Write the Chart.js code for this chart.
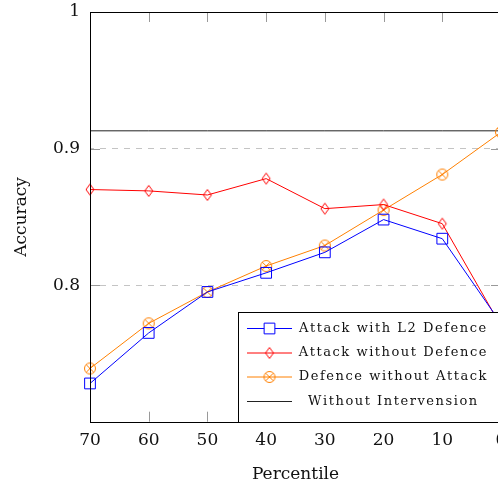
<!DOCTYPE html>
<html>
<head>
<meta charset="utf-8">
<script src="https://cdn.jsdelivr.net/npm/chart.js@4"></script>
<style>
  html, body { margin: 0; padding: 0; overflow: hidden; background: #fff; }
  #wrap { position: relative; width: 513px; height: 483px; }
</style>
</head>
<body>
<div id="wrap"><canvas id="accuracyChart"></canvas></div>
<script>
// Accuracy per pruning percentile
const percentiles = [70, 60, 50, 40, 30, 20, 10, 0];
const attackL2Defence = [0.728, 0.765, 0.795, 0.809, 0.824, 0.848, 0.834, 0.772];
const attackNoDefence = [0.870, 0.869, 0.866, 0.878, 0.856, 0.859, 0.845, 0.770];
const defenceNoAttack = [0.739, 0.772, 0.795, 0.814, 0.829, 0.855, 0.881, 0.912];
const noIntervention = 0.913;
const yTicks = [0.7, 0.8, 0.9, 1];

const seriesLabels = ['Attack with L2 Defence', 'Attack without Defence', 'Defence without Attack', 'Without Intervension'];

const BLUE = 'rgb(0,0,255)';
const RED = 'rgb(255,0,0)';
const ORANGE = 'rgb(255,128,0)';
const BLACK = '#222';

// small marker images for the diamond and the crossed circle
function diamondMarker(color) {
    const c = document.createElement('canvas');
    c.width = 12; c.height = 14;
    const g = c.getContext('2d');
    g.strokeStyle = color;
    g.lineWidth = 1;
    g.beginPath();
    g.moveTo(6, 1.5); g.lineTo(10, 7); g.lineTo(6, 12.5); g.lineTo(2, 7); g.closePath();
    g.stroke();
    return c;
}
function otimesMarker(color) {
    const c = document.createElement('canvas');
    c.width = 14; c.height = 14;
    const g = c.getContext('2d');
    g.strokeStyle = color;
    g.lineWidth = 1;
    const r = 5.5, d = r * Math.SQRT1_2;
    g.beginPath(); g.arc(7, 7, r, 0, Math.PI * 2); g.stroke();
    g.beginPath();
    g.moveTo(7 - d, 7 - d); g.lineTo(7 + d, 7 + d);
    g.moveTo(7 + d, 7 - d); g.lineTo(7 - d, 7 + d);
    g.stroke();
    return c;
}

const pts = vals => percentiles.map((p, i) => ({x: p, y: vals[i]}));

const datasets = [
    {
        label: seriesLabels[0], data: pts(attackL2Defence),
        borderColor: BLUE, backgroundColor: 'transparent',
        pointStyle: 'rect', pointRadius: 7.6, pointBorderColor: BLUE, pointBorderWidth: 1
    },
    {
        label: seriesLabels[1], data: pts(attackNoDefence),
        borderColor: RED, backgroundColor: 'transparent',
        pointStyle: diamondMarker(RED), pointRadius: 6
    },
    {
        label: seriesLabels[2], data: pts(defenceNoAttack),
        borderColor: ORANGE, backgroundColor: 'transparent',
        pointStyle: otimesMarker(ORANGE), pointRadius: 6
    },
    {
        label: seriesLabels[3], data: percentiles.map(p => ({x: p, y: noIntervention})),
        borderColor: BLACK, backgroundColor: 'transparent', pointRadius: 0
    }
];
datasets.forEach(d => { d.borderWidth = 1; d.clip = false; d.tension = 0; d.pointHoverRadius = d.pointRadius; });

const serif = 'DejaVu Serif';

// frame, inward tick marks and the boxed legend
const framePlugin = {
    id: 'frame',
    afterDatasetsDraw(chart) {
        const {ctx, chartArea: a, scales: {x, y}} = chart;
        ctx.save();
        ctx.strokeStyle = '#999';
        ctx.lineWidth = 1;
        const tl = 10;
        ctx.beginPath();
        percentiles.forEach(p => {
            const px = Math.round(x.getPixelForValue(p)) + 0.5;
            ctx.moveTo(px, a.top); ctx.lineTo(px, a.top + tl);
            ctx.moveTo(px, a.bottom); ctx.lineTo(px, a.bottom - tl);
        });
        yTicks.forEach(v => {
            const py = Math.round(y.getPixelForValue(v)) + 0.5;
            ctx.moveTo(a.left, py); ctx.lineTo(a.left + tl, py);
            ctx.moveTo(a.right, py); ctx.lineTo(a.right - tl, py);
        });
        ctx.stroke();
        ctx.strokeStyle = '#000';
        ctx.strokeRect(Math.round(a.left) + 0.5, Math.round(a.top) + 0.5,
            Math.round(a.right - a.left), Math.round(a.bottom - a.top));
        ctx.restore();
    },
    afterDraw(chart) {
        const {ctx, chartArea: a} = chart;
        const bx = 238.5, by = 312.5, bh = Math.round(a.bottom) - 312;
        ctx.save();
        ctx.fillStyle = '#fff';
        ctx.fillRect(bx, by, chart.width - bx + 5, bh);
        ctx.strokeStyle = '#000';
        ctx.lineWidth = 1;
        ctx.strokeRect(bx, by, chart.width - bx + 5, bh);

        const rows = [328.5, 353, 377, 401.5];
        const lineX0 = 247, lineX1 = 292, textCx = 392.5;
        ctx.font = '13px "' + serif + '"';
        ctx.textBaseline = 'middle';
        const spacing = Math.max(0, (187 - ctx.measureText(seriesLabels[0]).width) / (seriesLabels[0].length - 1));

        chart.data.datasets.forEach((ds, i) => {
            const yy = rows[i];
            ctx.strokeStyle = ds.borderColor;
            ctx.lineWidth = 1;
            ctx.beginPath();
            ctx.moveTo(lineX0, yy); ctx.lineTo(lineX1, yy);
            ctx.stroke();
            const mx = (lineX0 + lineX1) / 2;
            if (ds.pointRadius > 0) {
                Chart.helpers.drawPoint(ctx, {
                    pointStyle: ds.pointStyle, radius: ds.pointRadius, rotation: 0,
                    borderWidth: 1
                }, mx, yy);
            }
            // letter-spaced label
            ctx.fillStyle = '#111';
            const chars = [...ds.label];
            const w = ctx.measureText(ds.label).width + spacing * (chars.length - 1);
            let cx = textCx - w / 2;
            chars.forEach(ch => {
                ctx.fillText(ch, cx, yy);
                cx += ctx.measureText(ch).width + spacing;
            });
        });
        ctx.restore();
    }
};

// let the layout padding alone decide where the plot area sits
const noScalePadding = s => { s.paddingTop = 0; s.paddingBottom = 0; s.paddingLeft = 0; s.paddingRight = 0; };

new Chart(document.getElementById('accuracyChart'), {
    type: 'line',
    data: {datasets},
    options: {
        responsive: true,
        maintainAspectRatio: false,
        animation: false,
        events: [],
        layout: {padding: {top: 12, right: 12, left: 0, bottom: 0}},
        plugins: {legend: {display: false}, tooltip: {enabled: false}},
        scales: {
            x: {
                type: 'linear', reverse: true, min: 0, max: 70,
                afterBuildTicks: s => { s.ticks = percentiles.map(v => ({value: v})); },
                afterFit: s => { s.height = 61.3; noScalePadding(s); },
                ticks: {color: '#111', font: {family: serif, size: 17}, padding: 9, maxRotation: 0},
                grid: {display: false, drawTicks: false},
                border: {display: false},
                title: {display: true, text: 'Percentile', color: '#111',
                    font: {family: serif, size: 17}, padding: {top: 0, bottom: -2}}
            },
            y: {
                min: 0.7, max: 1,
                afterBuildTicks: s => { s.ticks = yTicks.map(v => ({value: v})); },
                afterFit: s => { s.width = 90; noScalePadding(s); },
                ticks: {
                    color: '#111', font: {family: serif, size: 17}, padding: 10,
                    callback: v => (v < 0.75 ? '' : String(Math.round(v * 10) / 10))
                },
                grid: {
                    drawTicks: false, lineWidth: 1,
                    color: ctx => (ctx.tick && ctx.tick.value > 0.75 && ctx.tick.value < 0.95 ? '#c4c4c4' : 'transparent')
                },
                border: {display: false, dash: [6, 6], dashOffset: -10},
                title: {display: true, text: 'Accuracy', color: '#111',
                    font: {family: serif, size: 17}, padding: {top: 11, bottom: 0}}
            }
        }
    },
    plugins: [framePlugin]
});
</script>
</body>
</html>
